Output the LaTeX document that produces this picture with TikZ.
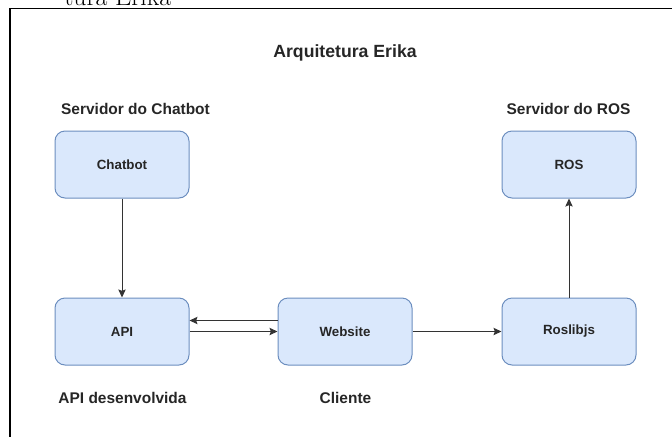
\documentclass[tikz,border=0pt]{standalone}
\usepackage{fontspec}
\setsansfont{Liberation Sans}
\usetikzlibrary{arrows.meta}
\definecolor{boxfill}{HTML}{DAE8FC}
\definecolor{boxdraw}{HTML}{6C8EBF}
\definecolor{linegray}{HTML}{333333}
\tikzset{
  px/.style={x=0.75pt,y=-0.75pt},
  compbox/.style={draw=boxdraw,fill=boxfill,line width=0.75pt,rounded corners=7.5pt,
    minimum width=100.5pt,minimum height=50.25pt,inner sep=0pt,
    font=\sffamily\bfseries\fontsize{10}{12}\selectfont,text=black!85},
  grouplabel/.style={font=\sffamily\bfseries\fontsize{11.6}{13}\selectfont,text=black!85,inner sep=0pt},
  conn/.style={draw=linegray,line width=0.75pt,-{Stealth[length=6pt,width=5.5pt,inset=1pt]}}
}
\begin{document}
\begin{tikzpicture}[px]
\useasboundingbox (0,0) rectangle (672,437);
% caption remnant
\node[anchor=base west,inner sep=0pt,font=\fontsize{19.3}{20}\selectfont] (cap) at (64,5.5) {tura Erika};
% frame
\coordinate (frTR) at (672,8.5);
\coordinate (frTL) at (10,8.5);
\coordinate (frBL) at (10,437);
\draw[line width=1pt] (frTR) -- (frTL) -- (frBL);
% title
\node[font=\sffamily\bfseries\fontsize{13.25}{15}\selectfont,text=black!85,inner sep=0pt] (title) at (345,53) {Arquitetura Erika};
% boxes
\node[compbox] (chatbot) at (122,164.5) {Chatbot};
\node[compbox] (ros) at (569,164.5) {ROS};
\node[compbox] (api) at (122,331.5) {API};
\node[compbox] (web) at (345,331.5) {Website};
\node[compbox] (rosl) at (569,331.5) {Roslibjs};
% group labels
\node[grouplabel] (lchat) at (135.5,108.5) {Servidor do Chatbot};
\node[grouplabel] (lros) at (568.5,108.5) {Servidor do ROS};
\node[grouplabel] (lapi) at (122.5,398) {API desenvolvida};
\node[grouplabel] (lcli) at (345.5,398) {Cliente};
% connectors
\draw[conn] (chatbot) -- (api);
\draw[conn] (rosl) -- (ros);
\draw[conn] ([yshift=8.25pt]web.west) -- ([yshift=8.25pt]api.east);
\draw[conn] (api.east) -- (web.west);
\draw[conn] (web.east) -- (rosl.west);
\end{tikzpicture}
\end{document}
